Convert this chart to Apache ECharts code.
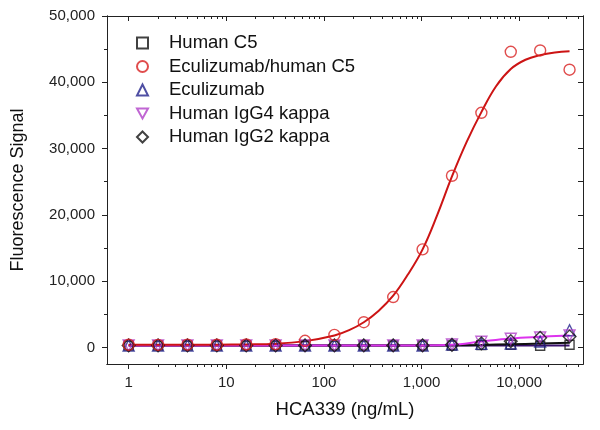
<!DOCTYPE html>
<html lang="en">
<head>
    <meta charset="UTF-8">
    <title>HCA339 binding</title>
    <script src="https://cdn.jsdelivr.net/npm/echarts@6.0.0/dist/echarts.min.js"></script>
    <style>
        body { margin: 0; background: #fff; }
        #chart { width: 600px; height: 430px; }
    </style>
</head>
<body>
    <div id="chart"></div>
    <script>
        // concentrations (ng/mL), doubling dilutions
        const conc = [1, 2, 4, 8, 16, 32, 64, 128, 256, 512, 1024, 2048, 4096, 8192, 16384, 32768];
        const humanC5 = [300, 300, 300, 300, 300, 300, 300, 300, 300, 300, 300, 300, 350, 400, 250, 400];
        const eculizumabC5 = [400, 380, 420, 400, 450, 500, 1000, 1900, 3800, 7600, 14800, 25900, 35400, 44600, 44800, 41900];
        const eculizumab = [300, 300, 300, 300, 300, 300, 300, 300, 300, 300, 300, 450, 550, 600, 900, 2600];
        const igg4 = [300, 300, 300, 300, 300, 300, 300, 300, 300, 300, 300, 450, 850, 1300, 1500, 1800];
        const igg2 = [300, 300, 300, 300, 300, 300, 300, 300, 300, 300, 300, 400, 600, 950, 1450, 1650];

        // fitted curves
        const fitConc = [1, 2, 4, 8, 16, 32, 64, 128, 181, 256, 362, 512, 724, 1024, 1448, 2048, 2896, 4096, 5793, 8192, 11585, 16384, 23170, 32768];
        const redFit = [400, 400, 410, 420, 450, 550, 950, 1800, 2600, 3800, 5500, 7800, 11000, 14800, 20000, 25800, 31000, 35500, 39400, 42000, 43400, 44100, 44500, 44700];
        const blackFit = [300, 300, 300, 300, 300, 300, 300, 300, 300, 300, 300, 320, 380, 480, 580, 700];
        const magentaFit = [300, 300, 300, 300, 300, 300, 300, 300, 300, 300, 300, 400, 900, 1350, 1600, 1800];
        const navyFit = [300, 300, 300, 300, 300, 300, 300, 300, 300, 300, 300, 300, 300, 300, 300, 300];

        // ticks
        const xMajor = [1, 10, 100, 1000, 10000];
        const xMinor = [2, 3, 4, 5, 6, 7, 8, 9, 20, 30, 40, 50, 60, 70, 80, 90, 200, 300, 400, 500, 600, 700, 800, 900,
            2000, 3000, 4000, 5000, 6000, 7000, 8000, 9000, 20000, 30000, 40000];
        const yMajor = [0, 10000, 20000, 30000, 40000, 50000];
        const yMinor = [5000, 15000, 25000, 35000, 45000];

        const pairs = (xs, ys) => xs.map((x, i) => [x, ys[i]]);
        const fmt = v => Math.round(v).toLocaleString('en-US');
        const axisColor = '#222';

        function xAxisDef(pos, ticks, len, inside, withLabels) {
            return {
                type: 'log', logBase: 10, min: 0.6, max: 45000, position: pos,
                name: withLabels ? 'HCA339 (ng/mL)' : '',
                nameLocation: 'middle', nameGap: 36,
                nameTextStyle: { fontSize: 18.5, color: '#111' },
                axisLine: { show: true, onZero: false, lineStyle: { color: axisColor, width: 1 } },
                axisTick: { show: true, customValues: ticks, length: len, inside: inside, lineStyle: { color: axisColor } },
                axisLabel: withLabels ? { customValues: xMajor, formatter: fmt, fontSize: 15, color: '#222', margin: 11 } : { show: false },
                splitLine: { show: false },
                minorTick: { show: false }
            };
        }
        function yAxisDef(pos, ticks, len, inside, withLabels) {
            return {
                type: 'value', min: -2500, max: 50000, position: pos,
                name: withLabels ? 'Fluorescence Signal' : '',
                nameLocation: 'middle', nameGap: 80,
                nameTextStyle: { fontSize: 18, color: '#111' },
                axisLine: { show: true, onZero: false, lineStyle: { color: axisColor, width: 1 } },
                axisTick: { show: true, customValues: ticks, length: len, inside: inside, lineStyle: { color: axisColor } },
                axisLabel: withLabels ? { customValues: yMajor, formatter: fmt, fontSize: 15, color: '#222', margin: 12 } : { show: false },
                splitLine: { show: false }
            };
        }

        function scatter(name, ys, symbol, size, color, rotate) {
            return {
                name: name, type: 'scatter', data: pairs(conc, ys),
                symbol: symbol, symbolSize: size, symbolRotate: rotate || 0,
                itemStyle: { color: 'transparent', borderColor: color, borderWidth: 1.4 },
                z: 3
            };
        }
        function fitLine(name, xs, ys, color, width) {
            return {
                name: name, type: 'line', data: pairs(xs, ys),
                smooth: 0.4, showSymbol: false, symbol: 'none',
                lineStyle: { color: color, width: width }, z: 2
            };
        }

        const chart = echarts.init(document.getElementById('chart'), null, { renderer: 'canvas' });
        chart.setOption({
            animation: false,
            textStyle: { fontFamily: 'Liberation Sans, Arial, sans-serif' },
            grid: { left: 107, right: 17, top: 16, bottom: 66 },
            legend: {
                orient: 'vertical', left: 131, top: 28,
                itemWidth: 11, itemHeight: 11, itemGap: 3.5,
                textStyle: { fontSize: 18.5, color: '#111', lineHeight: 20, padding: [0, 0, 0, 16] },
                data: [
                    'Human C5',
                    'Eculizumab/human C5',
                    'Eculizumab',
                    { name: 'Human IgG4 kappa', icon: 'path://M0,0 L10,0 L5,9 Z' },
                    { name: 'Human IgG2 kappa', icon: 'path://M5,0 L10,5 L5,10 L0,5 Z' }
                ]
            },
            xAxis: [
                xAxisDef('bottom', xMajor, 5, false, true),
                xAxisDef('bottom', xMinor, 3, false, false),
                xAxisDef('top', xMajor, 5, true, false),
                xAxisDef('top', xMinor, 3, true, false)
            ],
            yAxis: [
                yAxisDef('left', yMajor, 5, false, true),
                yAxisDef('left', yMinor, 3, false, false),
                yAxisDef('right', yMajor, 5, true, false),
                yAxisDef('right', yMinor, 5, true, false)
            ],
            series: [
                fitLine('fit navy', conc, navyFit, '#3a0f6e', 2),
                fitLine('fit black', conc, blackFit, '#111', 2),
                fitLine('fit magenta', conc, magentaFit, '#dd33ee', 2),
                scatter('Human C5', humanC5, 'rect', 9, '#111'),
                scatter('Eculizumab', eculizumab, 'triangle', 11, '#23238c'),
                scatter('Human IgG4 kappa', igg4, 'triangle', 11, '#b040c8', 180),
                scatter('Human IgG2 kappa', igg2, 'rect', 9, '#111', 45),
                scatter('Eculizumab/human C5', eculizumabC5, 'circle', 11, '#d82020'),
                fitLine('fit red', fitConc, redFit, '#cc1414', 2)
            ]
        });
    </script>
</body>
</html>
